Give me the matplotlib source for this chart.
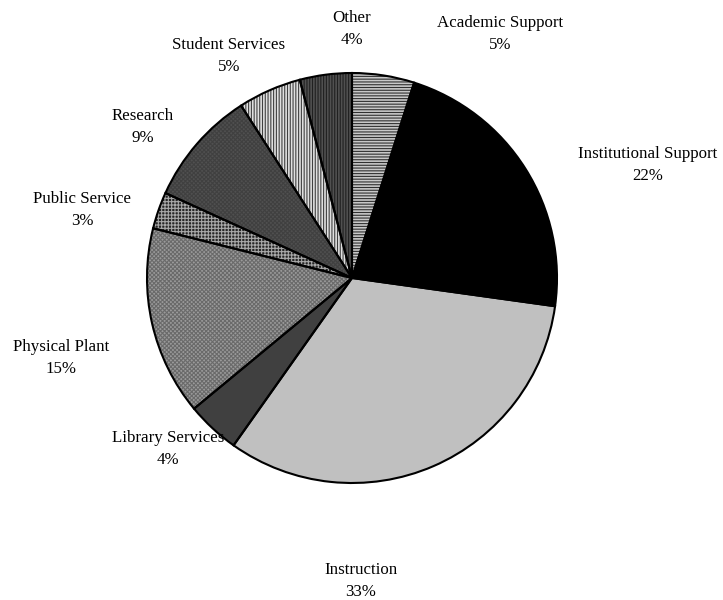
import matplotlib
matplotlib.use("Agg")
import matplotlib.pyplot as plt

categories = ["Academic Support", "Institutional Support", "Instruction",
              "Library Services", "Physical Plant", "Public Service",
              "Research", "Student Services", "Other"]
values = [4.9, 22.3, 32.6, 4.2, 14.9, 2.9, 9.1, 5.0, 4.1]

# styling (face colour, hatch, hatch colour)
faces = ["#c8c8c8", "#000000", "#c0c0c0", "#404040", "#9a9a9a",
         "#262626", "#505050", "#e0e0e0", "#505050"]
hatches = ["------", None, None, None, "xxxxxxxx", "+++++", "xxxxxxxx", "||||||", "||||||"]
hatch_cols = ["#303030", None, None, None, "#6a6a6a", "#a8a8a8", "#404040", "#404040", "#202020"]

# label centres in pixels (x, y from top)
label_px = [(500, 34), (648, 165), (361, 581), (168, 449), (61, 358),
            (82, 210), (143, 127), (229, 56), (352, 29)]

W, H = 723, 600
cx, cy, r = 352, 278, 205

plt.rcParams['font.family'] = ['Liberation Serif', 'DejaVu Serif']
plt.rcParams['hatch.linewidth'] = 0.8

fig = plt.figure(figsize=(W / 100, H / 100), dpi=100)
ax = fig.add_axes([(cx - r) / W, (H - cy - r) / H, 2 * r / W, 2 * r / H])

wedges, _ = ax.pie(values, startangle=90, counterclock=False, radius=1,
                   colors=faces, wedgeprops=dict(linewidth=0))
for w, h, hc in zip(wedges, hatches, hatch_cols):
    if h:
        w.set_hatch(h)
        w.set_edgecolor(hc)
        w.set_linewidth(0)
# outlines
ax.pie(values, startangle=90, counterclock=False, radius=1,
       colors=["none"] * len(values),
       wedgeprops=dict(linewidth=1.5, edgecolor="black", fill=False))

ax.set_xlim(-1, 1)
ax.set_ylim(-1, 1)
ax.set_aspect("equal")
ax.axis("off")

total = sum(values)
for cat, v, (px, py) in zip(categories, values, label_px):
    fig.text(px / W, 1 - py / H, f"{cat}\n{round(v / total * 100):d}%",
             ha="center", va="center", fontsize=12.2, linespacing=1.5)

fig.savefig("out.png", dpi=100, facecolor="white")
